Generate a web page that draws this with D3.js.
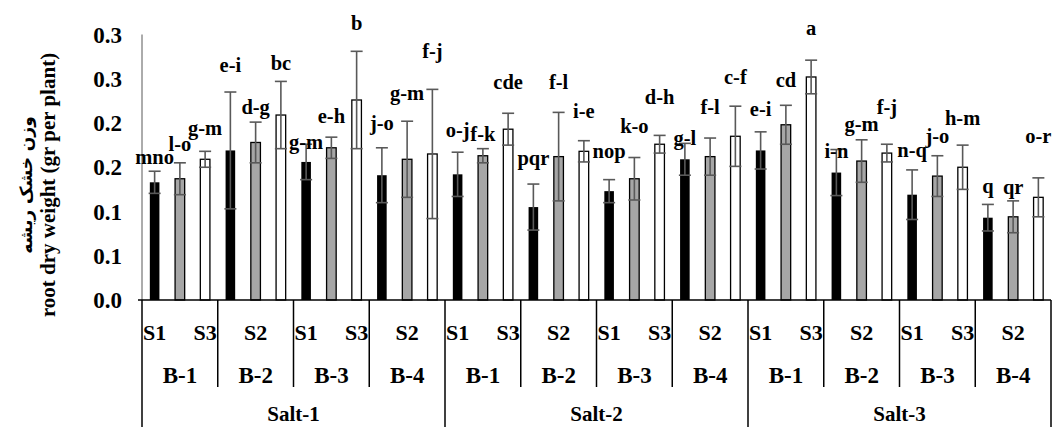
<!DOCTYPE html>
<html>
<head>
<meta charset="utf-8">
<script src="https://cdn.jsdelivr.net/npm/d3@7"></script>
<style>
  body { margin: 0; background: #fff; }
</style>
</head>
<body>
<div id="chart"></div>
<script>
// categories
var salts = ["Salt-1", "Salt-2", "Salt-3"];
var bLevels = ["B-1", "B-2", "B-3", "B-4"];
var sLevels = ["S1", "S2", "S3"];

// root dry weight, one value per bar (salt > B > S order)
var rootDry = [
  0.133, 0.137, 0.159,  0.169, 0.178, 0.209,  0.156, 0.172, 0.226,  0.141, 0.159, 0.165,
  0.142, 0.163, 0.193,  0.105, 0.162, 0.168,  0.123, 0.137, 0.176,  0.159, 0.162, 0.185,
  0.169, 0.198, 0.252,  0.144, 0.157, 0.166,  0.119, 0.140, 0.150,  0.093, 0.094, 0.116
];
var stdErr = [
  0.0125, 0.018, 0.009,  0.066, 0.023, 0.038,  0.020, 0.012, 0.055,  0.031, 0.043, 0.073,
  0.025, 0.008, 0.018,  0.026, 0.050, 0.012,  0.013, 0.024, 0.010,  0.018, 0.021, 0.034,
  0.021, 0.022, 0.019,  0.026, 0.024, 0.010,  0.028, 0.023, 0.025,  0.015, 0.018, 0.022
];
// mean comparison letters and the height they sit at
var letters = [
  "mno", "l-o", "g-m",  "e-i", "d-g", "bc",  "g-m", "e-h", "b",  "j-o", "g-m", "f-j",
  "o-j", "f-k", "cde",  "pqr", "f-l", "i-e",  "nop", "k-o", "d-h",  "g-l", "f-l", "c-f",
  "e-i", "cd", "a",  "i-n", "g-m", "f-j",  "n-q", "j-o", "h-m",  "q", "qr", "o-r"
];
var letterAt = [
  0.162, 0.177, 0.194,  0.266, 0.218, 0.268,  0.179, 0.208, 0.313,  0.200, 0.234, 0.281,
  0.192, 0.188, 0.246,  0.161, 0.247, 0.214,  0.168, 0.197, 0.230,  0.183, 0.218, 0.252,
  0.216, 0.249, 0.308,  0.169, 0.199, 0.218,  0.170, 0.186, 0.206,  0.129, 0.128, 0.185
];
var yTicks = [0, 0.05, 0.1, 0.15, 0.2, 0.25, 0.3];
var yTickLabels = ["0.0", "0.1", "0.1", "0.2", "0.2", "0.3", "0.3"];

var sColors = { "S1": "#000000", "S2": "#a6a6a6", "S3": "#ffffff" };

var width = 1056, height = 427;
var plot = { left: 142, right: 1051, top: 34.5, bottom: 300 };
var serif = "Liberation Serif, Times New Roman, DejaVu Serif, serif";

// flatten into bar records
var data = [];
salts.forEach(function (salt) {
  bLevels.forEach(function (b) {
    sLevels.forEach(function (s) {
      var i = data.length;
      data.push({ i: i, salt: salt, b: b, s: s, v: rootDry[i], e: stdErr[i], lab: letters[i], labY: letterAt[i] });
    });
  });
});

var svg = d3.select("#chart").append("svg")
  .attr("width", width)
  .attr("height", height)
  .attr("font-family", serif)
  .attr("font-weight", "bold");

var x = d3.scaleBand()
  .domain(d3.range(data.length))
  .range([plot.left, plot.right])
  .paddingInner(0.62)
  .paddingOuter(0.31);
var step = x.step();

var y = d3.scaleLinear().domain([0, 0.3]).range([plot.bottom, plot.top]);

// y axis line (no ticks)
svg.append("line")
  .attr("x1", plot.left).attr("x2", plot.left)
  .attr("y1", y(0.3)).attr("y2", plot.bottom)
  .attr("stroke", "#595959").attr("stroke-width", 1);

svg.append("g").selectAll("text")
  .data(yTicks)
  .enter().append("text")
  .attr("x", 122)
  .attr("y", function (d) { return y(d); })
  .attr("dy", "0.35em")
  .attr("text-anchor", "end")
  .attr("font-family", serif)
  .attr("font-size", 23)
  .text(function (d, i) { return yTickLabels[i]; });

// axis title (two lines, persian on top)
var title = svg.append("g").attr("transform", "translate(0,185) rotate(-90)");
title.append("text")
  .attr("x", 0).attr("y", 32)
  .attr("text-anchor", "middle")
  .attr("font-family", "DejaVu Sans, sans-serif")
  .attr("font-size", 17)
  .text("وزن خشک ریشه");
title.append("text")
  .attr("x", 0).attr("y", 55)
  .attr("text-anchor", "middle")
  .attr("font-family", serif)
  .attr("font-size", 21)
  .text("root dry weight (gr per plant)");

// bars
svg.append("g").selectAll("rect")
  .data(data)
  .enter().append("rect")
  .attr("x", function (d) { return x(d.i); })
  .attr("y", function (d) { return y(d.v); })
  .attr("width", x.bandwidth())
  .attr("height", function (d) { return y(0) - y(d.v); })
  .attr("fill", function (d) { return sColors[d.s]; })
  .attr("stroke", "#000")
  .attr("stroke-width", function (d) { return d.s == "S1" ? 0 : 1.3; });

// error bars
var eb = svg.append("g").attr("stroke", "#595959").attr("stroke-width", 1.6);
data.forEach(function (d) {
  var cx = x(d.i) + x.bandwidth() / 2;
  eb.append("line").attr("x1", cx).attr("x2", cx).attr("y1", y(d.v + d.e)).attr("y2", y(d.v - d.e));
  eb.append("line").attr("x1", cx - 6).attr("x2", cx + 6).attr("y1", y(d.v + d.e)).attr("y2", y(d.v + d.e));
  eb.append("line").attr("x1", cx - 6).attr("x2", cx + 6).attr("y1", y(d.v - d.e)).attr("y2", y(d.v - d.e));
});

// letters
svg.append("g").selectAll("text")
  .data(data)
  .enter().append("text")
  .attr("x", function (d) { return x(d.i) + x.bandwidth() / 2; })
  .attr("y", function (d) { return y(d.labY); })
  .attr("dy", "0.35em")
  .attr("text-anchor", "middle")
  .attr("font-family", serif)
  .attr("font-size", 20.5)
  .text(function (d) { return d.lab; });

// category axis: base line and separators
var ax = svg.append("g").attr("stroke", "#000").attr("stroke-width", 1.5);
ax.append("line")
  .attr("x1", plot.left - 4).attr("x2", plot.right)
  .attr("y1", plot.bottom).attr("y2", plot.bottom);

var nGroups = salts.length * bLevels.length;
d3.range(nGroups + 1).forEach(function (k) {
  var gx = x(k * 3) - step * 0.31;
  if (k == nGroups) gx = plot.right;
  var full = k % bLevels.length == 0;
  ax.append("line")
    .attr("x1", gx).attr("x2", gx)
    .attr("y1", plot.bottom).attr("y2", full ? height : 387);
});

// S labels (every other one shown, like the original)
svg.append("g").selectAll("text")
  .data(data.filter(function (d) { return d.i % 2 == 0; }))
  .enter().append("text")
  .attr("x", function (d) { return x(d.i) + x.bandwidth() / 2; })
  .attr("y", 332)
  .attr("dy", "0.35em")
  .attr("text-anchor", "middle")
  .attr("font-family", serif)
  .attr("font-size", 22)
  .text(function (d) { return d.s; });

// B labels
svg.append("g").selectAll("text")
  .data(d3.range(nGroups))
  .enter().append("text")
  .attr("x", function (k) { return x(k * 3 + 1) + x.bandwidth() / 2; })
  .attr("y", 375)
  .attr("dy", "0.35em")
  .attr("text-anchor", "middle")
  .attr("font-family", serif)
  .attr("font-size", 23)
  .text(function (k) { return bLevels[k % bLevels.length]; });

// Salt labels
svg.append("g").selectAll("text")
  .data(salts)
  .enter().append("text")
  .attr("x", function (d, k) { return (x(k * 12) + x(k * 12 + 11) + x.bandwidth()) / 2; })
  .attr("y", 414)
  .attr("dy", "0.35em")
  .attr("text-anchor", "middle")
  .attr("font-family", serif)
  .attr("font-size", 21)
  .text(function (d) { return d; });
</script>
</body>
</html>
